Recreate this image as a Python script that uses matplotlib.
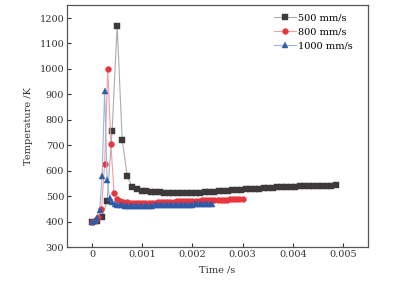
import numpy as np
import matplotlib
matplotlib.use("Agg")
import matplotlib.pyplot as plt

plt.rcParams['font.family'] = ['DejaVu Serif']

labels = ["500 mm/s", "800 mm/s", "1000 mm/s"]

# 500 mm/s: first 10 samples every 0.1 ms, then every 0.09 ms
t_500_head = np.arange(10) * 0.0001
t_500_tail = 0.00099 + np.arange(44) * 0.00009
temp_500 = [400, 404, 420, 482, 758, 1170, 722, 580, 534, 527,
            522, 519, 517, 516, 515, 514, 513, 513, 513, 513, 513, 513,
            514, 514, 515, 516, 517, 519, 520, 522,
            523, 524, 526, 527, 528, 529, 530, 531,
            532, 533, 534, 535, 536, 536, 537, 538,
            538, 539, 539, 540, 540, 541, 541, 542]
dt_800 = 0.0000625
dt_1000 = 0.00005
temp_800 = [400, 404, 418, 451, 625, 1000, 704, 514, 490, 482, 478, 476, 475, 474, 474, 474,
            474, 474, 474, 475, 475, 476, 476, 477, 477, 478, 478, 479, 479, 480, 480, 481,
            481, 482, 482, 483, 483, 484, 484, 485, 485, 485, 486, 486, 487, 487, 487, 488, 488]
temp_1000 = [400, 403, 415, 445, 579, 915, 563, 491, 477, 470, 467, 465, 464, 463, 463, 462,
             462, 462, 462, 462, 462, 463, 463, 463, 463, 464, 464, 464, 464, 465, 465, 465,
             465, 466, 466, 466, 466, 467, 467, 467, 467, 468, 468, 468, 468, 469, 469, 469, 470]

t_500 = np.concatenate([t_500_head, t_500_tail])
t_800 = np.arange(len(temp_800)) * dt_800
t_1000 = np.arange(len(temp_1000)) * dt_1000

fig = plt.figure(figsize=(4.0, 2.82), dpi=100)
ax = fig.add_axes([0.1675, 0.124, 0.7525, 0.858])

styles = [
    (t_500, temp_500, 's', '#3f3a3a', '#b0aaaa', 3.8),
    (t_800, temp_800, 'o', '#e8363e', '#f0a0a4', 4.2),
    (t_1000, temp_1000, '^', '#2f5ba8', '#9db5dc', 4.4),
]
for (t, T, m, mc, lc, ms), lab in zip(styles, labels):
    ax.plot(t, T, color=lc, lw=0.8, marker=m, markersize=ms,
            markerfacecolor=mc, markeredgecolor=mc, markeredgewidth=0.3, label=lab)

ax.set_xlim(-0.0005, 0.0055)
ax.set_ylim(300, 1251)
ax.set_xticks([0, 0.001, 0.002, 0.003, 0.004, 0.005])
ax.set_xticklabels(["0", "0.001", "0.002", "0.003", "0.004", "0.005"])
ax.set_yticks(range(300, 1201, 100))
ax.tick_params(direction='in', length=3, width=0.8, labelsize=7, colors='#333333', pad=2)
for s in ax.spines.values():
    s.set_color('#555555')
    s.set_linewidth(0.9)
ax.set_xlabel("Time /s", fontsize=7, color='#333333', labelpad=5)
ax.set_ylabel("Temperature /K", fontsize=7, color='#333333', labelpad=5)

leg = ax.legend(loc='upper right', fontsize=7, frameon=False, handlelength=2.2,
                handletextpad=0.3, labelspacing=0.5, borderaxespad=0.5,
                bbox_to_anchor=(0.98, 1.0))

fig.savefig("out.png", dpi=100)
